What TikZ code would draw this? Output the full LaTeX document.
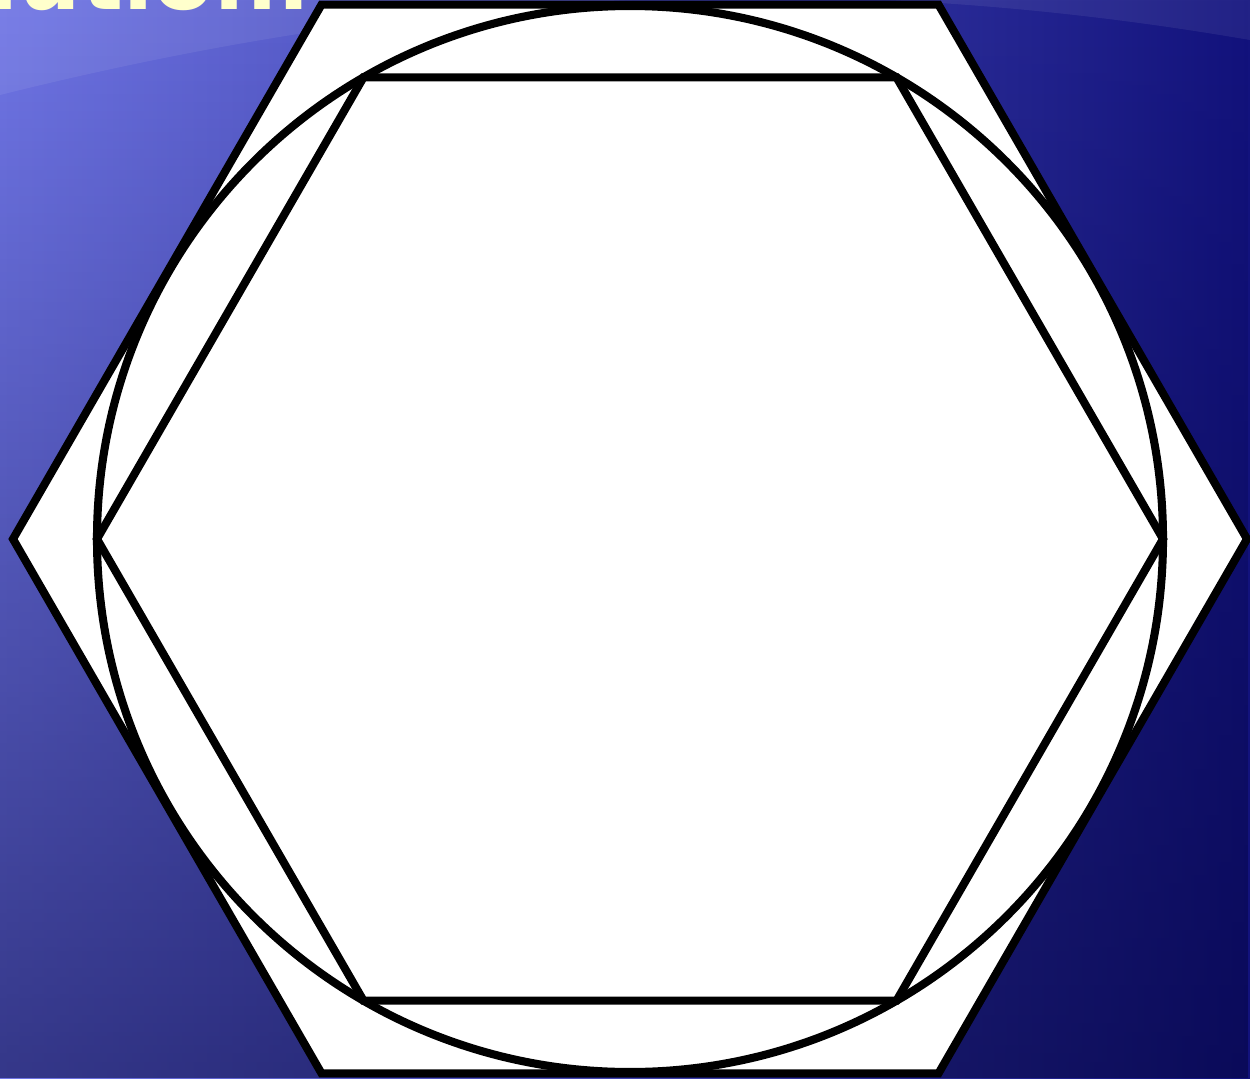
\documentclass[tikz,border=0pt]{standalone}
\usepackage{fontspec}
\usepackage{xcolor}
\usepackage{tikz}
\usetikzlibrary{fadings}
\newfontfamily\titlefont{DejaVu Sans}
\definecolor{bgleft}{RGB}{112,118,230}
\definecolor{bgright}{RGB}{18,18,125}
\definecolor{bgdeep}{RGB}{4,4,60}
\definecolor{titlecream}{RGB}{255,255,204}
\tikzset{
  hexline/.style={draw=black,line width=4.6pt,line join=miter},
  title/.style={font=\titlefont\bfseries\fontsize{50}{56}\selectfont,text=titlecream,inner sep=0pt},
}

\begin{document}
\begin{tikzpicture}[x=0.02cm,y=-0.02cm]
  \useasboundingbox (0,0) rectangle (1250,1078);
  \clip (0,0) rectangle (1250,1078);
  % slide background
  \shade[left color=bgleft,right color=bgright] (0,0) rectangle (1250,1078);
  \fill[bgdeep,opacity=0.55,path fading=north] (0,0) rectangle (1250,1078);
  \fill[white,opacity=0.07] (0,0) -- (0,95) .. controls (500,-30) and (900,-20) .. (1250,40) -- (1250,0) -- cycle;
  % title, mostly above the crop
  \node[title,anchor=base east] (title) at (312,10) {Solution:};
  % hexagon, circle, hexagon
  \coordinate (c) at (630,539);
  \begin{scope}[shift={(c)}]
    \draw[hexline,fill=white] (0:617) \foreach \a in {60,120,...,300} { -- (\a:617)} -- cycle;
    \draw[hexline] (0,0) circle[radius=533];
    \draw[hexline] (0:533) \foreach \a in {60,120,...,300} { -- (\a:533)} -- cycle;
  \end{scope}
\end{tikzpicture}
\end{document}
